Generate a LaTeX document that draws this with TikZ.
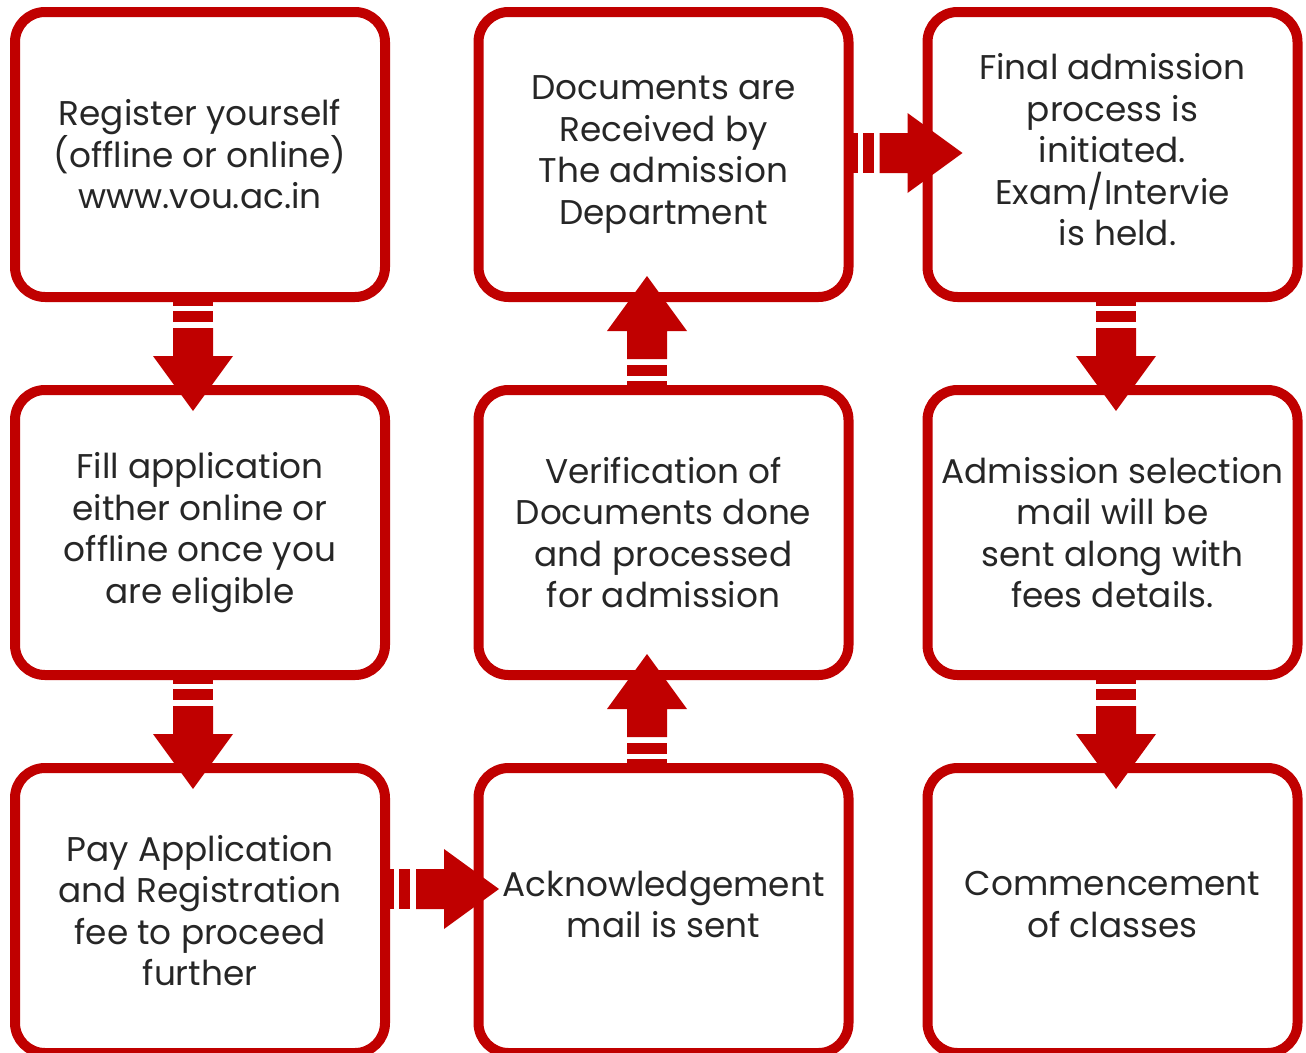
\documentclass[tikz,border=0pt]{standalone}
\usepackage{fontspec}
\setmainfont{Poppins}
\usetikzlibrary{positioning}
\definecolor{voured}{HTML}{C00000}
\definecolor{voutext}{HTML}{262626}

% striped block arrow: #1 start point on the border, #2 direction angle
\newcommand{\stripearrow}[2]{%
  \begin{scope}[shift={(#1)}, rotate=#2]
    \fill [voured] (-2,-20) rectangle (9,20);
    \fill [voured] (14,-20) rectangle (25,20);
    \fill [voured] (31,-20) -- (59,-20) -- (59,-40) -- (114,0) -- (59,40) -- (59,20) -- (31,20) -- cycle;
  \end{scope}}

\begin{document}
\begin{tikzpicture}[x=1pt,y=-1pt,
    stepbox/.style={draw=voured, line width=10pt, rounded corners=30pt,
      minimum width=370pt, minimum height=285pt, inner sep=0pt, outer sep=0pt,
      align=center, text=voutext, font=\fontsize{34.3}{41.5}\selectfont}]
  \useasboundingbox (0,0) rectangle (1306,1052);
  % first column
  \node [stepbox] (reg) at (200,154.5) {Register yourself\\(offline or online)\\www.vou.ac.in};
  \node [stepbox] (apply) at (200,532.5) {Fill application\\either online or\\offline once you\\are eligible};
  \node [stepbox] (pay) at (200,910.5) {Pay Application\\and Registration\\fee to proceed\\further};
  % second column
  \node [stepbox, text depth=12pt] (ack) at (663.5,910.5) {Acknowledgement\\mail is sent};
  \node [stepbox] (verif) at (663.5,532.5) {Verification of\\Documents done\\and processed\\for admission};
  \node [stepbox] (docs) at (663.5,154.5) {Documents are\\Received by\\The admission\\Department};
  % third column
  \node [stepbox, text depth=10pt] (final) at (1112.5,154.5) {Final admission\\process is\\initiated.\\Exam/Intervie\\\hspace*{10pt}is held.};
  \node [stepbox] (select) at (1112.5,532.5) {Admission selection\\mail will be\\sent along with\\fees details.};
  \node [stepbox, text depth=12pt] (classes) at (1112.5,910.5) {Commencement\\of classes};
  % arrows
  \stripearrow{[xshift=-7pt]reg.south}{-90}
  \stripearrow{[xshift=-7pt]apply.south}{-90}
  \stripearrow{[yshift=21.5pt]pay.east}{0}
  \stripearrow{[xshift=-16.5pt]ack.north}{90}
  \stripearrow{[xshift=-16.5pt]verif.north}{90}
  \stripearrow{[yshift=1.5pt]docs.east}{0}
  \stripearrow{[xshift=3.5pt]final.south}{-90}
  \stripearrow{[xshift=3.5pt]select.south}{-90}
\end{tikzpicture}
\end{document}
